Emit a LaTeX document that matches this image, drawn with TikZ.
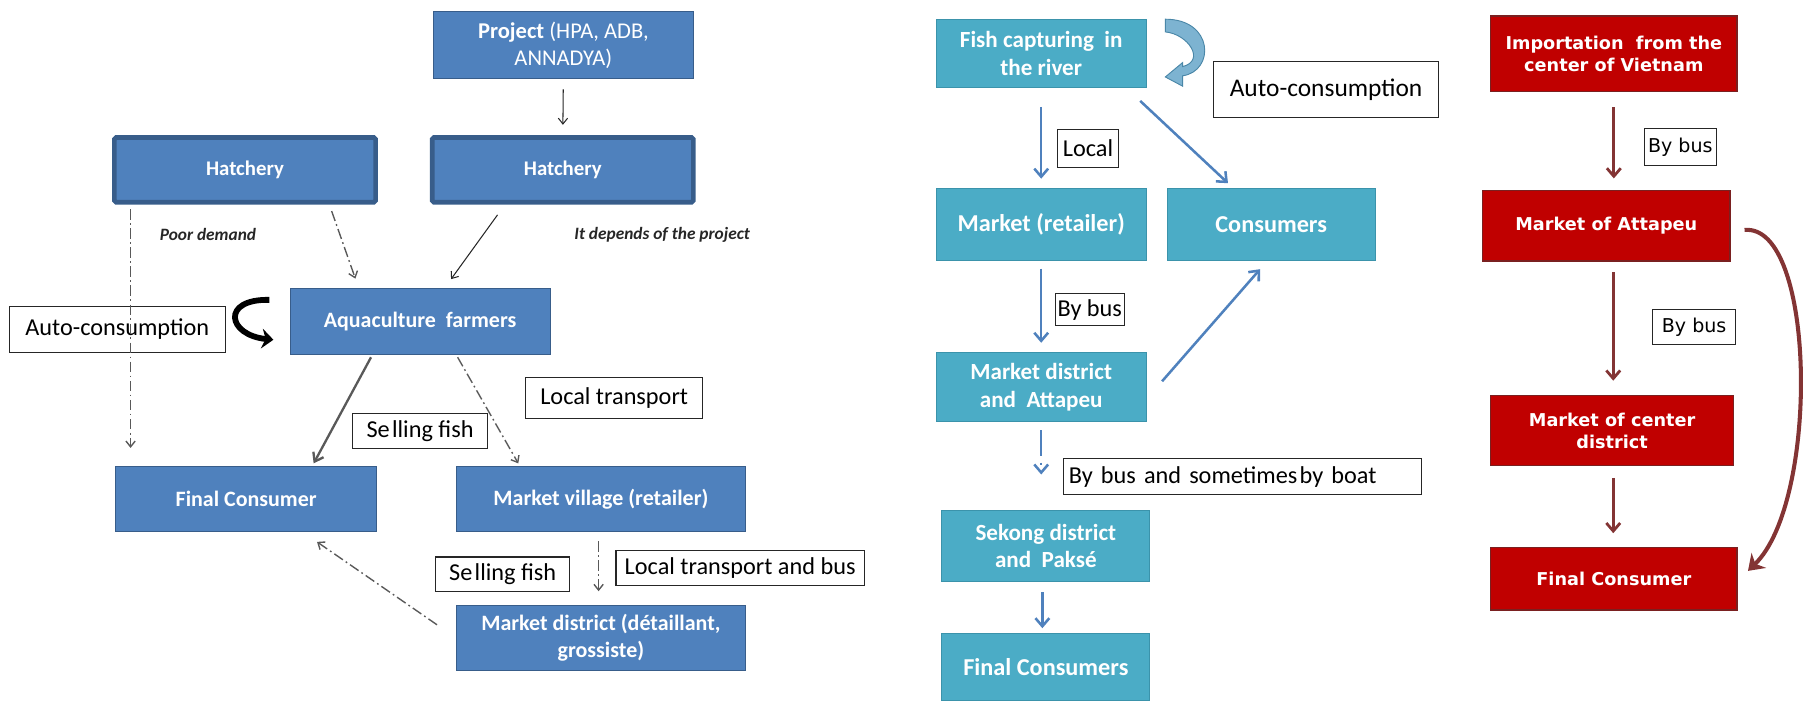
\documentclass[tikz,border=0pt]{standalone}
\usepackage{fontspec}
\setmainfont{Carlito}
\newfontfamily\dvs{DejaVu Sans}
\usetikzlibrary{arrows.meta,calc}
\definecolor{lblue}{HTML}{4F81BD}
\definecolor{lblueD}{HTML}{385D8A}
\definecolor{teal}{HTML}{4BACC6}
\definecolor{tealD}{HTML}{3B93AB}
\definecolor{mred}{HTML}{C00000}
\definecolor{mredD}{HTML}{7A2020}
\definecolor{darr}{HTML}{833434}
\definecolor{garr}{HTML}{595959}
\definecolor{curvL}{HTML}{7DB3D1}
\definecolor{curvD}{HTML}{4A87A8}
\tikzset{
  bbox/.style={draw=lblueD, line width=0.8pt, fill=lblue, text=white, align=center, inner sep=2pt,
    font=\fontsize{19}{23}\selectfont\bfseries},
  hbox/.style={bbox, draw=lblueD, line width=4pt, rounded corners=1.5pt, font=\fontsize{18}{21}\selectfont\bfseries},
  tbox/.style={draw=tealD, line width=0.8pt, fill=teal, text=white, align=center, inner sep=2pt,
    font=\fontsize{21}{25}\selectfont\bfseries},
  rbox/.style={draw=mredD, line width=1.2pt, fill=mred, text=white, align=center, inner sep=2pt,
    font=\dvs\fontsize{15.3}{19}\selectfont\bfseries},
  lbl/.style={draw=black!85, line width=1pt, fill=white, text=black, inner sep=2pt,
    font=\fontsize{21}{24}\selectfont},
  rlbl/.style={lbl, font=\dvs\fontsize{16.5}{19}\selectfont},
  note/.style={font=\fontsize{15}{17}\selectfont\bfseries\itshape, text=black!85},
  karr/.style={line width=0.9pt, black!85, -{Straight Barb[length=5pt,width=8pt]}},
  garrow/.style={line width=2pt, garr, -{Straight Barb[length=7pt,width=10pt]}},
  dda/.style={line width=1.2pt, garr, dash pattern=on 9pt off 3pt on 1.5pt off 3pt, -{Straight Barb[length=5pt,width=8pt]}},
  barr/.style={line width=2.2pt, lblue, -{Straight Barb[length=7pt,width=12pt]}},
  rarr/.style={line width=2.4pt, darr, -{Straight Barb[length=7pt,width=12pt]}},
}
\begin{document}
\begin{tikzpicture}[x=1pt,y=-1pt]
\useasboundingbox (0,0) rectangle (1568,608);
% ---------------- left part
\node[bbox, minimum width=225pt, minimum height=58pt, font=\fontsize{19.5}{23}\selectfont\bfseries] (proj) at (487.5,39) {Project \mdseries(HPA, ADB,\\\mdseries ANNADYA)};
\node[hbox, minimum width=226pt, minimum height=56pt] (hatL) at (212,147) {Hatchery};
\node[hbox, minimum width=226pt, minimum height=56pt] (hatR) at (487,147) {Hatchery};
\node[bbox, minimum width=225pt, minimum height=57pt] (aqua) at (363.5,278.5) {Aquaculture\ \ farmers};
\node[lbl, minimum width=187pt, minimum height=40pt] (autoL) at (101.5,285) {Auto-consumption};
\node[bbox, minimum width=226pt, minimum height=56pt] (fcL) at (213,432) {Final Consumer};
\node[bbox, minimum width=250pt, minimum height=56pt] (mv) at (520,432) {Market village (retailer)};
\node[bbox, minimum width=250pt, minimum height=56pt] (md) at (520,552) {Market district (détaillant,\\grossiste)};
\node[note] (poor) at (180,203) {Poor demand};
\node[note] (dep) at (573,203) {It depends of the project};

\draw[karr, shorten <=9pt, shorten >=9pt] (proj.south) -- (hatR.north);
\draw[dda, shorten <=6pt, shorten >=9pt] ([xshift=73pt]hatL.south) -- ([xshift=-53pt]aqua.north);
\draw[karr, shorten <=11pt, shorten >=10pt] ([xshift=-50pt]hatR.south) -- ([xshift=21pt]aqua.north);
\draw[dda, shorten <=4pt, shorten >=16pt] ([xshift=-99pt]hatL.south) -- ([xshift=-100pt]fcL.north);
\draw[garrow, shorten <=2pt, shorten >=3pt] ([xshift=-41.5pt]aqua.south) -- ([xshift=57pt]fcL.north);
\draw[dda, shorten <=2pt, shorten >=3pt] ([xshift=31.5pt]aqua.south) -- ([xshift=-70pt]mv.north);
\draw[dda, shorten <=8pt, shorten >=12pt] ([xshift=-2pt]mv.south) -- ([xshift=-2pt]md.north);
\draw[dda, shorten <=20pt, shorten >=15pt] (md.west) -- ([xshift=49pt]fcL.south);
\coordinate (acs) at ($(aqua.west)+(-17.5,-19)$);
\coordinate (ace) at ($(aqua.west)+(-14,15.5)$);
\draw[line width=5pt, black, -{Stealth[length=10pt,width=17pt]}] (acs) .. controls +(-42,-1) and +(-40,-4) .. (ace);

\node[lbl, minimum width=117pt, minimum height=30pt] (sell1) at (363.5,373) {Se\kern2pt lling fish};
\node[lbl, minimum width=153pt, minimum height=35pt] (loct) at (531.5,344.5) {Local transport};
\node[lbl, minimum width=116pt, minimum height=30pt] (sell2) at (435,497) {Se\kern2pt lling fish};
\node[lbl, minimum width=215pt, minimum height=31pt] (loctb) at (640.5,491.5) {Local transport and bus};

% ---------------- middle part
\node[tbox, minimum width=182pt, minimum height=59pt, font=\fontsize{20}{24}\selectfont\bfseries] (fish) at (901,46.5) {Fish capturing\ \ in\\the river};
\node[tbox, minimum width=182pt, minimum height=62pt] (mret) at (901,194) {Market (retailer)};
\node[tbox, minimum width=180pt, minimum height=62pt] (cons) at (1100,194) {Consumers};
\node[tbox, minimum width=182pt, minimum height=60pt, font=\fontsize{20}{24}\selectfont\bfseries] (mda) at (901,335) {Market district\\and\ \ Attapeu};
\node[tbox, minimum width=180pt, minimum height=61pt, font=\fontsize{20}{24}\selectfont\bfseries] (sek) at (905,472.5) {Sekong district\\and\ \ Paksé};
\node[tbox, minimum width=180pt, minimum height=58pt] (fcs) at (905,577) {Final Consumers};

\draw[barr, shorten <=16pt, shorten >=8pt] (fish.south) -- (mret.north);
\draw[barr, shorten <=16pt, shorten >=6pt] ([xshift=74pt]fish.south) -- ([xshift=-33pt]cons.north);
\draw[barr, shorten <=7pt, shorten >=8pt] (mret.south) -- (mda.north);
\draw[barr, shorten <=20pt, shorten >=10pt] ([yshift=-10pt]mda.east) -- ([xshift=-3pt]cons.south);
\draw[barr, dash pattern=on 22pt off 6pt on 2pt off 6pt, shorten <=7pt, shorten >=31pt] (mda.south) -- ([xshift=-4pt]sek.north);
\draw[barr, shorten <=9pt, shorten >=4pt] ([xshift=-3pt]sek.south) -- ([xshift=-3pt]fcs.north);

\coordinate (fc0) at ($(fish.north east)+(16,0)$);
\fill[curvL, draw=curvD, line width=0.8pt]
  (fc0) .. controls +(42,0) and +(28,-4) .. ($(fc0)+(15,49)$)
  -- ($(fc0)+(15,58)$) -- ($(fc0)+(0,50)$) -- ($(fc0)+(15,37.5)$) -- ($(fc0)+(15,41)$)
  .. controls +(20,-5) and +(20,2) .. ($(fc0)+(0,11)$) -- cycle;

\node[lbl, minimum width=195pt, minimum height=49pt, font=\fontsize{22}{25}\selectfont] (autoM) at (1147.5,77.5) {Auto-consumption};
\node[lbl, minimum width=53pt, minimum height=33pt] (local) at (941.5,128.5) {Local};
\node[lbl, minimum width=50pt, minimum height=28pt] (bybus1) at (943,268) {By bus};
\node[lbl, minimum width=310pt, minimum height=31pt, text width=300pt, align=left] (bbb) at (1075,412.5) {By bus and sometimes\hskip 2pt by boat};

% ---------------- right part
\node[rbox, minimum width=213pt, minimum height=65pt] (imp) at (1396.5,46.5) {Importation\ \ from the\\center of Vietnam};
\node[rbox, minimum width=214pt, minimum height=61pt] (mat) at (1390,195.5) {Market of Attapeu};
\node[rbox, minimum width=210pt, minimum height=61pt] (mcd) at (1395,372.5) {Market of center\\district};
\node[rbox, minimum width=213pt, minimum height=54pt] (fcr) at (1396.5,501) {Final Consumer};

\draw[rarr, shorten <=13pt, shorten >=10pt] (imp.south) -- ([xshift=6.5pt]mat.north);
\draw[rarr, shorten <=9pt, shorten >=12pt] ([xshift=6pt]mat.south) -- ([xshift=1pt]mcd.north);
\draw[rarr, shorten <=10pt, shorten >=12pt] ([xshift=1pt]mcd.south) -- ([xshift=-0.5pt]fcr.north);
\draw[line width=3.5pt, darr, -{Stealth[length=13pt,width=18pt]}] ([xshift=12pt,yshift=-3.5pt]mat.east) .. controls +(62,-6) and +(62,-60) .. ([xshift=9pt,yshift=7pt]fcr.east);

\node[rlbl, minimum width=62pt, minimum height=32pt] (bb2) at (1454,127) {By bus};
\node[rlbl, minimum width=72pt, minimum height=30pt] (bb3) at (1466,283) {By bus};
\end{tikzpicture}
\end{document}
